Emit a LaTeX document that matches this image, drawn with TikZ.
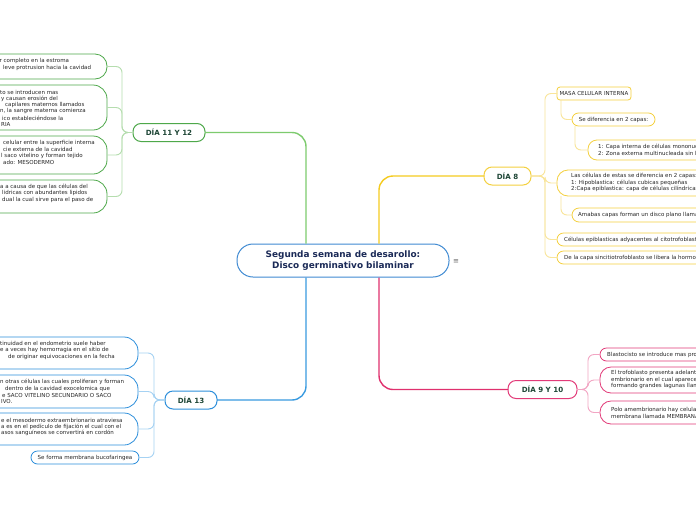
\documentclass[tikz,border=0pt]{standalone}
\usepackage{fontspec}
\setmainfont{DejaVu Sans}
\usetikzlibrary{calc}
\definecolor{grn}{HTML}{4EA84A}
\definecolor{grnL}{HTML}{B5DDAE}
\definecolor{grnM}{HTML}{7DCB6E}
\definecolor{blu}{HTML}{2D8FDB}
\definecolor{bluL}{HTML}{A6D2F3}
\definecolor{bluM}{HTML}{3A9BE0}
\definecolor{yel}{HTML}{F4D03F}
\definecolor{yelL}{HTML}{F9E59A}
\definecolor{yelM}{HTML}{F5CB1F}
\definecolor{pnk}{HTML}{E23B79}
\definecolor{pnkL}{HTML}{F2A5C3}
\definecolor{pnkM}{HTML}{E0306E}
\definecolor{ctr}{HTML}{3F8AD2}
\definecolor{ttl}{HTML}{1B2A57}
\definecolor{diac}{HTML}{1E4636}
\tikzset{
  txt/.style={font=\fontsize{5.5}{6.5}\selectfont, text=black!85, inner sep=0pt, anchor=west},
  mtxt/.style={txt, align=left},
  bx/.style={draw=#1, fill=white, line width=0.8pt, inner sep=0pt, outer sep=0pt, rectangle},
  diabox/.style={draw=#1, fill=white, line width=1pt, rounded corners=8, inner sep=0pt, outer sep=0pt,
    minimum height=18pt, font=\fontsize{7.1}{8}\selectfont\bfseries, text=diac},
  mainln/.style={draw=#1, line width=1.4pt, rounded corners=14},
  subln/.style={draw=#1, line width=0.9pt, rounded corners=6},
}
\newcommand\rbox[6]{%
  \pgfmathsetmacro\bw{#4-#2}\pgfmathsetmacro\bh{#5-#3}%
  \pgfmathsetmacro\bx{(#2+#4)/2}\pgfmathsetmacro\by{(#3+#5)/2}%
  \node[#6, minimum width=\bw pt, minimum height=\bh pt] (#1) at (\bx,\by) {};}
\begin{document}
\begin{tikzpicture}[x=1pt,y=-1pt]
\useasboundingbox (0,0) rectangle (696,520);
\clip (0,0) rectangle (696,520);
\fill[white] (0,0) rectangle (696,520);
% central
\node[draw=ctr, fill=white, line width=1pt, rounded corners=16, minimum width=212pt, minimum height=33pt,
  inner sep=0pt, align=center, font=\fontsize{8.9}{11.5}\selectfont\bfseries, text=ttl] (c) at (343,260.5)
  {Segunda semana de desarollo:\\Disco germinativo bilaminar};
\node[font=\fontsize{7}{7}\selectfont, text=black!60, inner sep=0pt] (menu) at (456,262) {≡};
% day nodes
\node[diabox=grn, minimum width=72pt] (d1112) at (169,132.5) {DÍA 11 Y 12};
\node[diabox=yel, minimum width=47pt] (d8) at (507.5,176) {DÍA 8};
\node[diabox=blu, minimum width=52pt] (d13) at (191,400) {DÍA 13};
\node[diabox=pnk, minimum width=69pt] (d910) at (542.5,389.5) {DÍA 9 Y 10};
% green children
\rbox{g1}{-80}{54}{107}{79}{bx=grn, rounded corners=12}
\node[txt] (g1a) at (-0.5,61) {r completo en la estroma};
\node[txt] (g1b) at (3,67.5) {leve protrusion hacia la cavidad};
\rbox{g2}{-80}{85}{107}{130}{bx=grn, rounded corners=14}
\node[txt] (g2a) at (0,92.3) {to se introducen mas};
\node[txt] (g2b) at (1,98.5) {y causan erosión del};
\node[txt] (g2c) at (5,105) {capilares maternos llamados};
\node[txt] (g2d) at (0,111.4) {n, la sangre materna comienza};
\node[txt] (g2e) at (2,118) {ico estableciéndose la};
\node[txt] (g2f) at (1,124.5) {RIA};
\rbox{g3}{-80}{136}{107}{174}{bx=grn, rounded corners=14}
\node[txt] (g3a) at (3,143.3) {celular entre la superficie interna};
\node[txt] (g3b) at (3,149.3) {cie externa de la cavidad};
\node[txt] (g3c) at (1,155.7) {l saco vitelino y forman tejido};
\node[txt] (g3d) at (3,162.3) {ado: MESODERMO};
\rbox{g4}{-80}{180}{107}{213}{bx=grn, rounded corners=14}
\node[txt] (g4a) at (0,187.3) {a a causa de que las células del};
\node[txt] (g4b) at (2,193.3) {lidricas con abundantes lipidos};
\node[txt] (g4c) at (2,199.7) {dual la cual sirve para el paso de};
% blue children
\rbox{b1}{-80}{337}{138}{369}{bx=blu, rounded corners=14}
\node[txt] (b1a) at (0,343) {tinuidad en el endometrio suele haber};
\node[txt] (b1b) at (0,349.5) {e a veces hay hemorragia en el sitio de};
\node[txt] (b1c) at (8,356.5) {de originar equivocaciones en la fecha};
\rbox{b2}{-80}{375}{138}{408}{bx=blu, rounded corners=14}
\node[txt] (b2a) at (0,382) {n otras células las cuales proliferan y forman};
\node[txt] (b2b) at (5,388.5) {dentro de la cavidad exocelomica que};
\node[txt] (b2c) at (2,395) {e SACO VITELINO SECUNDARIO O SACO};
\node[txt] (b2d) at (1,401.5) {IVO.};
\rbox{b3}{-80}{413}{138}{445}{bx=blu, rounded corners=14}
\node[txt] (b3a) at (1,420) {e el mesodermo extraembrionario atraviesa};
\node[txt] (b3b) at (1,426.5) {a es en el pedículo de fijación el cual con el};
\node[txt] (b3c) at (1,433) {asos sanguíneos se convertirá en cordón};
\node[bx=blu, rounded corners=6.5, minimum width=108pt, minimum height=13pt,
  font=\fontsize{5.5}{6.5}\selectfont, text=black!85] (b4) at (85,457.5) {Se forma membrana bucofaringea};
% yellow children
\node[bx=yel, rounded corners=3, minimum width=74pt, minimum height=13pt,
  font=\fontsize{5.5}{6.5}\selectfont, text=black!85] (y1) at (594,93.5) {MASA CELULAR INTERNA};
\node[bx=yel, rounded corners=6.5, minimum width=83pt, minimum height=13pt,
  font=\fontsize{5.5}{6.5}\selectfont, text=black!85] (y1a) at (613.5,119.5) {Se diferencia en 2 capas:};
\rbox{y1b}{588}{140}{800}{160}{bx=yel, rounded corners=9}
\node[mtxt] (y1bt) at (598,150) {1: Capa interna de células mononucleadas: CITOTROFOBLASTO\\2: Zona externa multinucleada sin límites celulares: SINCITIOTROFOBLASTO};
\rbox{y2}{557}{170}{800}{196}{bx=yel, rounded corners=11}
\node[mtxt] (y2t) at (571,182.5) {Las células de estas se diferencia en 2 capas:\\1: Hipoblastica: células cubicas pequeñas\\2:Capa epiblastica: capa de células cilíndricas altas};
\rbox{y2a}{572}{208}{800}{222}{bx=yel, rounded corners=7}
\node[txt] (y2at) at (578,215) {Amabas capas forman un disco plano llamado DISCO GERMINATIVO BILAMINAR};
\rbox{y3}{557}{233}{800}{246}{bx=yel, rounded corners=6.5}
\node[txt] (y3t) at (564,239.5) {Células epiblasticas adyacentes al citotrofoblasto se denominan AMNIOBLASTOS};
\rbox{y4}{557}{251}{800}{264}{bx=yel, rounded corners=6.5}
\node[txt] (y4t) at (564,257.5) {De la capa sincitiotrofoblasto se libera la hormona gonadotropina};
% pink children
\rbox{p1}{600}{348}{800}{361}{bx=pnk, rounded corners=6.5}
\node[txt] (p1t) at (607,354.5) {Blastocisto se introduce mas profundamente en el endometrio};
\rbox{p2}{600}{367}{800}{393}{bx=pnk, rounded corners=11}
\node[mtxt] (p2t) at (611,379.5) {El trofoblasto presenta adelantos en el polo\\embrionario en el cual aparecen vacuolas\\formando grandes lagunas llamadas LAGUNAS};
\rbox{p3}{600}{401}{800}{424}{bx=pnk, rounded corners=11}
\node[mtxt] (p3t) at (611,413) {Polo amembrionario hay celulas aplanadas\\membrana llamada MEMBRANA DE HEUSER};
% helper coordinates
\coordinate (gx) at (306,0); \coordinate (yx) at (379,0);
\coordinate (gv) at (122,0); \coordinate (bv) at (154,0);
\coordinate (yv) at (545,0); \coordinate (pv) at (588,0);
\coordinate (ya) at (561,0); \coordinate (yb) at (575,0);
% main branches
\draw[mainln=grnM] (c.north -| gx) |- (d1112.east);
\draw[mainln=yelM] (c.north -| yx) |- (d8.west);
\draw[mainln=bluM] (c.south -| gx) |- (d13.east);
\draw[mainln=pnkM] (c.south -| yx) |- (d910.west);
% sub branches
\foreach \n in {g1,g2,g3,g4} \draw[subln=grnL] (d1112.west) -- (d1112.west -| gv) |- (\n.east);
\foreach \n in {b1,b2,b3,b4} \draw[subln=bluL] (d13.west) -- (d13.west -| bv) |- (\n.east);
\foreach \n in {y1,y2,y3,y4} \draw[subln=yelL] (d8.east) -- (d8.east -| yv) |- (\n.west);
\foreach \n in {p1,p2,p3} \draw[subln=pnkL] (d910.east) -- (d910.east -| pv) |- (\n.west);
\draw[subln=yelL] (y1.south -| ya) |- (y1a.west);
\draw[subln=yelL] (y1a.south -| yb) |- (y1b.west);
\draw[subln=yelL] (y2.south -| ya) |- (y2a.west);
\end{tikzpicture}
\end{document}
